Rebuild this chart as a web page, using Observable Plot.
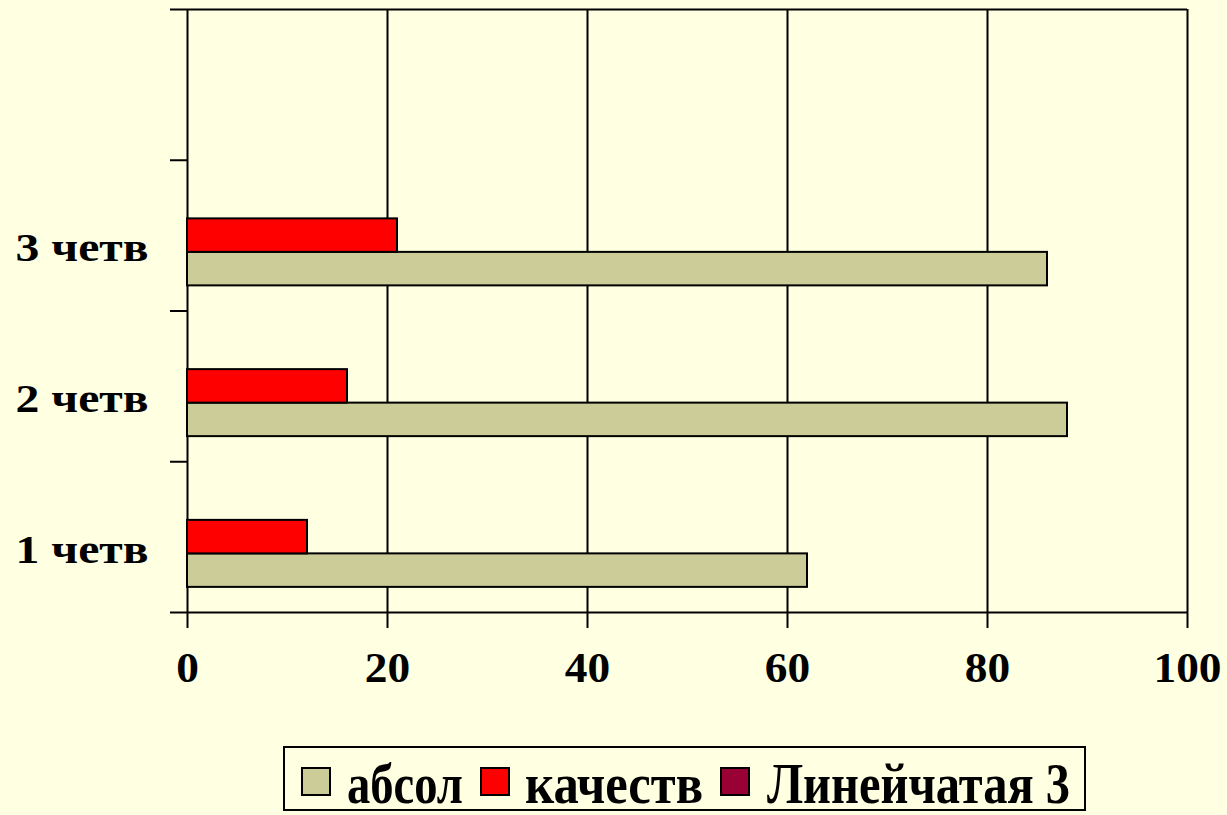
<!DOCTYPE html>
<html>
<head>
<meta charset="utf-8">
<script src="https://cdn.jsdelivr.net/npm/d3@7"></script>
<script src="https://cdn.jsdelivr.net/npm/@observablehq/plot@0.6"></script>
<style>
  html, body { margin: 0; padding: 0; background: #FFFFE1; }
  #wrap { position: relative; width: 1227px; height: 815px; overflow: hidden; background: #FFFFE1; }
  #chart, #legend { position: absolute; left: 0; }
  #chart { top: 0; }
  #legend { top: 730px; }
</style>
</head>
<body>
<div id="wrap"><div id="chart"></div><div id="legend"></div></div>
<script>
// ---- data ----
const categories = ["1 четв", "2 четв", "3 четв"];
const seriesNames = ["абсол", "качеств", "Линейчатая 3"];
const absol = [62, 88, 86];
const kachestv = [12, 16, 21];
const lineichataya3 = [null, null, null];
const xTicks = [0, 20, 40, 60, 80, 100];
const seriesColors = ["#CCCC99", "#FF0000", "#990033"];

// ---- table ----
const seriesValues = [absol, kachestv, lineichataya3];
const groupFrac = 2 / 3;               // bar group occupies 2/3 of a category slot
const barFrac = groupFrac / seriesNames.length;
const offset = (1 - groupFrac) / 2;
const rows = [];
categories.forEach((c, i) => {
  seriesNames.forEach((s, j) => {
    const v = seriesValues[j][i];
    if (v == null) return;
    rows.push({cat: c, series: s, value: v,
      y1: i + offset + j * barFrac, y2: i + offset + (j + 1) * barFrac});
  });
});

const font = "'Liberation Serif', 'Times New Roman', serif";

const plot = Plot.plot({
  width: 1227,
  height: 730,
  marginLeft: 187,
  marginRight: 40,
  marginTop: 9,
  marginBottom: 118,
  style: {background: "transparent", fontFamily: font, color: "black", overflow: "visible"},
  x: {domain: [0, 100]},
  y: {domain: [0, categories.length + 1]},
  color: {domain: seriesNames, range: seriesColors},
  marks: [
    Plot.ruleX(xTicks, {stroke: "black", strokeWidth: 2}),
    Plot.ruleY([0, categories.length + 1], {stroke: "black", strokeWidth: 2}),
    Plot.rect(rows, {x1: 0, x2: "value", y1: "y1", y2: "y2", fill: "series", stroke: "black", strokeWidth: 2}),
    Plot.axisY({ticks: d3.range(categories.length + 2), tickSize: 17, tickFormat: () => "", strokeWidth: 2, label: null}),
    Plot.axisY({ticks: categories.map((c, i) => i + 0.5), tickSize: 0, tickPadding: 39,
      tickFormat: v => categories[Math.floor(v)], fontSize: 40, fontWeight: "bold", dy: 13, label: null}),
    Plot.axisX({ticks: xTicks, tickSize: 16, tickPadding: 24, fontSize: 42, fontWeight: "bold",
      strokeWidth: 2, label: null, tickFormat: d => String(d)})
  ]
});
document.getElementById("chart").appendChild(plot);

// widen tick labels to match the stretched look of the original
d3.select(plot).selectAll('g[aria-label="y-axis tick label"] text').each(function() {
  this.setAttribute("textLength", 133);
  this.setAttribute("lengthAdjust", "spacingAndGlyphs");
});
d3.select(plot).selectAll('g[aria-label="x-axis tick label"] text').each(function() {
  const L = this.getComputedTextLength();
  this.setAttribute("textLength", L * 1.08);
  this.setAttribute("lengthAdjust", "spacingAndGlyphs");
});

// ---- legend ----
const leg = d3.select("#legend").append("svg").attr("width", 1227).attr("height", 85);
leg.append("rect").attr("x", 284).attr("y", 17).attr("width", 801).attr("height", 63)
  .attr("fill", "none").attr("stroke", "black").attr("stroke-width", 2);
const sqX = [302, 481, 721];
const txX = [347, 525, 767];
const txW = [116, 178, 303];
seriesNames.forEach((s, i) => {
  leg.append("rect").attr("x", sqX[i]).attr("y", 38).attr("width", 28).attr("height", 27)
    .attr("fill", seriesColors[i]).attr("stroke", "black").attr("stroke-width", 2);
  leg.append("text").attr("x", txX[i]).attr("y", 73).text(s)
    .attr("font-family", font).attr("font-weight", "bold").attr("font-size", 58)
    .attr("textLength", txW[i]).attr("lengthAdjust", "spacingAndGlyphs");
});
</script>
</body>
</html>
